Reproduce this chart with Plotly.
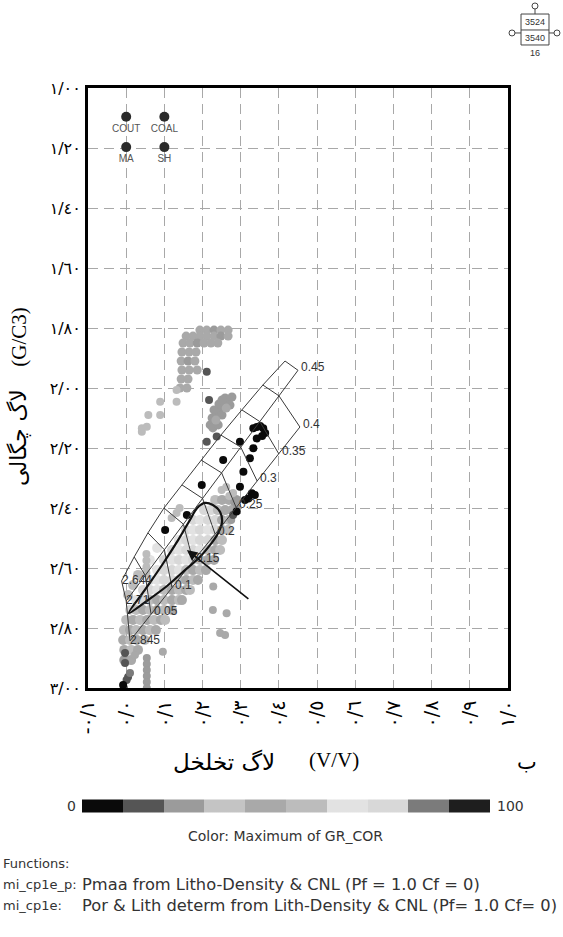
import plotly.graph_objects as go

# ---------------- axes ----------------
x_ticks = [-0.1, 0.0, 0.1, 0.2, 0.3, 0.4, 0.5, 0.6, 0.7, 0.8, 0.9, 1.0]
x_ticktext = ["-٠/١", "٠/٠", "٠/١", "٠/٢", "٠/٣", "٠/٤", "٠/٥", "٠/٦", "٠/٧", "٠/٨", "٠/٩", "١/٠"]
y_ticks = [1.0, 1.2, 1.4, 1.6, 1.8, 2.0, 2.2, 2.4, 2.6, 2.8, 3.0]
y_ticktext = ["١/٠٠", "١/٢٠", "١/٤٠", "١/٦٠", "١/٨٠", "٢/٠٠", "٢/٢٠", "٢/٤٠", "٢/٦٠", "٢/٨٠", "٣/٠٠"]

# ---------------- data points (NPHI, RHOB, GR) ----------------
upper_x = [0.193, 0.211, 0.230, 0.248, 0.267,
           0.157, 0.175, 0.193, 0.211, 0.230, 0.248, 0.267,
           0.149, 0.167, 0.186, 0.204, 0.222, 0.240,
           0.146, 0.165, 0.183,
           0.144, 0.162, 0.180,
           0.146, 0.165, 0.186,
           0.144, 0.162,
           0.141, 0.159]
upper_y = [1.807, 1.807, 1.807, 1.807, 1.807,
           1.827, 1.827, 1.827, 1.827, 1.827, 1.827, 1.827,
           1.850, 1.850, 1.850, 1.850, 1.850, 1.850,
           1.880, 1.880, 1.880,
           1.910, 1.910, 1.910,
           1.940, 1.940, 1.940,
           1.970, 1.970,
           2.000, 2.000]
upper_gr = [45, 45, 25, 45, 45,
            45, 45, 45, 45, 45, 25, 45,
            45, 45, 25, 45, 45, 45,
            45, 45, 45,
            45, 25, 45,
            45, 45, 45,
            45, 45,
            45, 45]

left_x = [0.132, 0.089, 0.132, 0.058, 0.089, 0.041, 0.054, 0.041]
left_y = [2.007, 2.046, 2.046, 2.090, 2.090, 2.134, 2.129, 2.146]
left_gr = [55, 55, 55, 55, 55, 55, 55, 55]

mid_x = [0.225, 0.235, 0.246, 0.256, 0.267, 0.277, 0.230, 0.243, 0.259, 0.220, 0.251, 0.272, 0.227, 0.241,
         0.262, 0.235, 0.251]
mid_y = [2.100, 2.087, 2.073, 2.057, 2.043, 2.030, 2.073, 2.053, 2.033, 2.123, 2.090, 2.057, 2.133, 2.123,
         2.067, 2.107, 2.040]
mid_gr = [25, 25, 25, 25, 25, 25, 25, 25, 25, 25, 25, 25, 25, 25, 45, 45, 25]

cloud_x = [0.233, 0.251, 0.269, 0.288,
           0.204, 0.222, 0.240, 0.259, 0.277,
           0.175, 0.193, 0.214, 0.233, 0.251, 0.269,
           0.157, 0.175, 0.193, 0.214, 0.233, 0.251, 0.267,
           0.138, 0.157, 0.175, 0.193, 0.214, 0.233, 0.251,
           0.120, 0.138, 0.157, 0.175, 0.193, 0.214, 0.233, 0.246,
           0.099, 0.120, 0.138, 0.157, 0.175, 0.193, 0.214, 0.230,
           0.081, 0.099, 0.120, 0.138, 0.157, 0.175, 0.193, 0.209,
           0.062, 0.081, 0.099, 0.120, 0.138, 0.157, 0.175, 0.188,
           0.044, 0.062, 0.081, 0.099, 0.120, 0.138, 0.157, 0.167,
           0.026, 0.044, 0.062, 0.081, 0.099, 0.120, 0.138, 0.146,
           0.010, 0.026, 0.044, 0.062, 0.081, 0.099, 0.120,
           0.000, 0.018, 0.036, 0.055, 0.073, 0.091, 0.102,
           -0.006, 0.010, 0.026, 0.044, 0.062, 0.078,
           -0.008, 0.010, 0.028, 0.049,
           -0.005, 0.013, 0.031,
           -0.005, 0.013,
           0.005, 0.018, 0.031, 0.062, 0.081]
cloud_y = [2.373, 2.373, 2.373, 2.373,
           2.407, 2.407, 2.407, 2.407, 2.407,
           2.440, 2.440, 2.440, 2.440, 2.440, 2.440,
           2.473, 2.473, 2.473, 2.473, 2.473, 2.473, 2.473,
           2.507, 2.507, 2.507, 2.507, 2.507, 2.507, 2.507,
           2.540, 2.540, 2.540, 2.540, 2.540, 2.540, 2.540, 2.540,
           2.573, 2.573, 2.573, 2.573, 2.573, 2.573, 2.573, 2.573,
           2.607, 2.607, 2.607, 2.607, 2.607, 2.607, 2.607, 2.607,
           2.640, 2.640, 2.640, 2.640, 2.640, 2.640, 2.640, 2.640,
           2.673, 2.673, 2.673, 2.673, 2.673, 2.673, 2.673, 2.673,
           2.707, 2.707, 2.707, 2.707, 2.707, 2.707, 2.707, 2.707,
           2.740, 2.740, 2.740, 2.740, 2.740, 2.740, 2.740,
           2.773, 2.773, 2.773, 2.773, 2.773, 2.773, 2.773,
           2.807, 2.807, 2.807, 2.807, 2.807, 2.807,
           2.840, 2.840, 2.840, 2.840,
           2.873, 2.873, 2.873,
           2.907, 2.907,
           2.690, 2.657, 2.623, 2.573, 2.533]
cloud_gr = [55, 45, 45, 25,
            75, 75, 55, 45, 45,
            75, 65, 75, 75, 45, 55,
            75, 65, 75, 65, 75, 45, 55,
            65, 75, 65, 75, 75, 45, 55,
            75, 65, 75, 75, 65, 55, 45, 55,
            75, 65, 75, 65, 75, 55, 45, 45,
            65, 75, 75, 65, 55, 45, 55, 45,
            75, 65, 75, 75, 55, 45, 55, 45,
            75, 75, 65, 55, 45, 55, 45, 55,
            65, 75, 55, 45, 55, 45, 55, 45,
            75, 55, 45, 55, 45, 55, 45,
            55, 45, 55, 45, 55, 45, 55,
            55, 45, 55, 45, 55, 45,
            45, 55, 45, 55,
            45, 55, 45,
            25, 45,
            55, 55, 55, 65, 65]

iso_x = [0.228, 0.227, 0.263, 0.246, 0.259, 0.096, 0.023, 0.132, 0.119, 0.140, 0.283, 0.290, 0.275,
         0.250, 0.262, 0.270, 0.280]
iso_y = [2.662, 2.740, 2.751, 2.817, 2.823, 2.879, 2.890, 2.417, 2.433, 2.400, 2.380, 2.400, 2.440,
         2.340, 2.330, 2.360, 2.350]
iso_gr = [45, 45, 45, 45, 45, 45, 45, 55, 55, 55, 25, 25, 25, 55, 55, 55, 55]

bar_x = [0.054, 0.054, 0.054, 0.054, 0.054, 0.054, 0.053, 0.053, 0.053, 0.053]
bar_y = [2.900, 2.920, 2.940, 2.960, 2.980, 3.000, 2.553, 2.575, 2.597, 2.617]
bar_gr = [25, 25, 25, 25, 25, 25, 55, 55, 55, 55]

dark_x = [0.211, 0.217, 0.211, 0.237, 0.280, -0.003, -0.003, 0.001, -0.006, 0.005, 0.010]
dark_y = [1.946, 2.040, 2.179, 2.162, 2.423, 2.883, 2.917, 2.973, 3.000, 2.963, 2.950]
dark_gr = [15, 15, 15, 15, 15, 15, 15, 15, 15, 15, 85]

black_x = [0.333, 0.342, 0.359, 0.364, 0.351, 0.342, 0.333, 0.324, 0.298, 0.254, 0.307, 0.298,
           0.329, 0.320, 0.337, 0.311, 0.289, 0.198, 0.159, 0.102, 0.356, -0.008]
black_y = [2.134, 2.130, 2.134, 2.150, 2.127, 2.168, 2.201, 2.234, 2.179, 2.240, 2.279, 2.329,
           2.351, 2.368, 2.357, 2.373, 2.412, 2.323, 2.423, 2.473, 2.160, 2.990]
black_gr = [5, 5, 5, 5, 5, 5, 5, 5, 5, 5, 5, 5,
            5, 5, 5, 5, 5, 5, 5, 5, 5, 5]

# ---------------- lithology / porosity chart overlay ----------------
phi_labels = ["0", "0.05", "0.1", "0.15", "0.2", "0.25", "0.3", "0.35", "0.4", "0.45"]
ss_x = [-0.012, 0.021, 0.057, 0.099, 0.146, 0.196, 0.248, 0.303, 0.358, 0.416]
ss_y = [2.643, 2.563, 2.483, 2.400, 2.323, 2.240, 2.157, 2.073, 1.990, 1.910]
ls_x = [0.000, 0.050, 0.100, 0.150, 0.200, 0.250, 0.300, 0.350, 0.400, 0.450]
ls_y = [2.710, 2.625, 2.539, 2.454, 2.368, 2.283, 2.197, 2.112, 2.026, 1.941]
dl_x = [0.010, 0.065, 0.120, 0.175, 0.233, 0.288, 0.343, 0.400, 0.455]
dl_y = [2.843, 2.753, 2.665, 2.577, 2.487, 2.398, 2.310, 2.220, 2.130]
matrix_labels = ["2.644", "2.71", "2.845"]

# hand-drawn loop and arrow
loop_x = [0.007, 0.049, 0.094, 0.136, 0.167, 0.186, 0.206, 0.227, 0.246, 0.251, 0.241, 0.220,
          0.193, 0.154, 0.107, 0.057, 0.007]
loop_y = [2.750, 2.673, 2.590, 2.507, 2.440, 2.400, 2.383, 2.390, 2.413, 2.447, 2.483, 2.523,
          2.563, 2.607, 2.660, 2.707, 2.750]
arrow_head = (0.159, 2.540)
arrow_tail = (0.324, 2.707)

# mineral reference points
mineral_names = ["COUT", "COAL", "MA", "SH"]
mineral_x = [0.0, 0.1, 0.0, 0.1]
mineral_y = [1.096, 1.096, 1.197, 1.197]

# colour scale (GR_COR, 0-100) in 10 grey steps
gr_steps = ["#0a0a0a", "#555555", "#9b9b9b", "#c4c4c4", "#a9a9a9",
            "#bcbcbc", "#e2e2e2", "#d8d8d8", "#7b7b7b", "#1e1e1e"]
colorscale = []
for i, c in enumerate(gr_steps):
    colorscale.append([i / 10, c])
    colorscale.append([(i + 1) / 10, c])

fig = go.Figure()

groups = [
    (upper_x, upper_y, upper_gr, 9), (left_x, left_y, left_gr, 8), (mid_x, mid_y, mid_gr, 9),
    (cloud_x, cloud_y, cloud_gr, 10), (iso_x, iso_y, iso_gr, 8), (bar_x, bar_y, bar_gr, 8),
    (dark_x, dark_y, dark_gr, 8), (black_x, black_y, black_gr, 8),
]
for gx, gy, gg, sz in groups:
    fig.add_trace(go.Scatter(x=gx, y=gy, mode="markers",
                             marker=dict(size=sz, color=gg, coloraxis="coloraxis"),
                             showlegend=False, hoverinfo="skip"))

# overlay: lengthwise lithology lines
line_style = dict(color="#3a3a3a", width=1)
for lx, ly in [(ss_x, ss_y), (ls_x, ls_y), (dl_x, dl_y)]:
    fig.add_trace(go.Scatter(x=lx, y=ly, mode="lines", line=line_style,
                             showlegend=False, hoverinfo="skip"))
# overlay: iso-porosity cross lines
cx, cy = [], []
for i in range(len(ss_x)):
    cx += [ss_x[i], ls_x[i]]
    cy += [ss_y[i], ls_y[i]]
    if i < len(dl_x):
        cx.append(dl_x[i])
        cy.append(dl_y[i])
    cx.append(None)
    cy.append(None)
fig.add_trace(go.Scatter(x=cx, y=cy, mode="lines", line=line_style,
                         showlegend=False, hoverinfo="skip"))

# loop
fig.add_trace(go.Scatter(x=loop_x, y=loop_y, mode="lines",
                         line=dict(color="#111111", width=2.2, shape="spline"),
                         showlegend=False, hoverinfo="skip"))

# mineral points
fig.add_trace(go.Scatter(x=mineral_x, y=mineral_y, mode="markers+text",
                         text=mineral_names, textposition="bottom center",
                         textfont=dict(family="Liberation Sans Narrow, Liberation Sans", size=10, color="#555555"),
                         marker=dict(size=10, color="#2b2b2b"),
                         showlegend=False, hoverinfo="skip"))

annotations = []
lab_font = dict(family="Liberation Sans", size=12, color="#333333")
for i in range(1, len(phi_labels)):
    if i < len(dl_x):
        px, py = dl_x[i], dl_y[i]
    else:
        px, py = ls_x[i], ls_y[i]
    annotations.append(dict(x=px, y=py, xref="x", yref="y", text=phi_labels[i],
                            showarrow=False, xanchor="left", yanchor="middle", yshift=3, xshift=1,
                            font=lab_font))
for lab, px, py in zip(matrix_labels, [ss_x[0], ls_x[0], dl_x[0]], [ss_y[0], ls_y[0], dl_y[0]]):
    annotations.append(dict(x=px, y=py, xref="x", yref="y", text=lab, showarrow=False,
                            xanchor="left", yanchor="middle", xshift=-2, yshift=1, font=lab_font))
annotations.append(dict(x=arrow_head[0], y=arrow_head[1], ax=arrow_tail[0], ay=arrow_tail[1],
                        xref="x", yref="y", axref="x", ayref="y", text="", showarrow=True,
                        arrowhead=2, arrowsize=1.3, arrowwidth=1.6, arrowcolor="#111111"))


def paper_text(x, y, text, font, xanchor="center", angle=0):
    return dict(x=x, y=y, xref="paper", yref="paper", text=text, showarrow=False,
                xanchor=xanchor, yanchor="middle", textangle=angle, font=font)


# axis titles
annotations += [
    paper_text(-0.165, 0.585, "(G/C3)", dict(family="Liberation Serif", size=21, color="black"), angle=-90),
    paper_text(-0.165, 0.418, "لاگ چگالی", dict(family="DejaVu Sans", size=22, color="black"), angle=-90),
    paper_text(0.45, -0.1233, "لاگ تخلخل", dict(family="DejaVu Sans", size=23, color="black"), xanchor="right"),
    paper_text(0.5214, -0.12, "(V/V)", dict(family="Liberation Serif", size=21, color="black"), xanchor="left"),
    paper_text(1.045, -0.1233, "ب", dict(family="DejaVu Sans", size=21, color="black")),
]
# colour bar labels and notes
note_font = dict(family="DejaVu Sans", size=14, color="#333333")
desc_font = dict(family="DejaVu Sans", size=16.3, color="#333333")
head_font = dict(family="DejaVu Sans", size=13, color="#333333")
annotations += [
    paper_text(-0.0238, -0.1967, "0", note_font, xanchor="right"),
    paper_text(0.969, -0.1967, "100", note_font, xanchor="left"),
    paper_text(0.4714, -0.2467, "Color: Maximum of GR_COR", note_font),
    paper_text(-0.2071, -0.2933, "Functions:", head_font, xanchor="left"),
    paper_text(-0.2071, -0.3283, "mi_cp1e_p:", head_font, xanchor="left"),
    paper_text(-0.019, -0.3283, "Pmaa from Litho-Density & CNL (Pf = 1.0 Cf = 0)", desc_font, xanchor="left"),
    paper_text(-0.2071, -0.3633, "mi_cp1e:", head_font, xanchor="left"),
    paper_text(-0.019, -0.3633, "Por & Lith determ from Lith-Density & CNL (Pf= 1.0 Cf= 0)", desc_font,
               xanchor="left"),
]
# well/zone badge, top right
badge_font = dict(family="Liberation Sans", size=9, color="#333333")
annotations += [
    paper_text(1.0643, 1.11, "3524", badge_font),
    paper_text(1.0643, 1.0833, "3540", badge_font),
    paper_text(1.0643, 1.0583, "16", badge_font),
]
shape_line = dict(color="#444444", width=1)
shapes = [
    dict(type="rect", xref="paper", yref="paper", x0=1.031, x1=1.0976, y0=1.0717, y1=1.1233, line=shape_line),
    dict(type="line", xref="paper", yref="paper", x0=1.031, x1=1.0976, y0=1.0967, y1=1.0967, line=shape_line),
    dict(type="circle", xref="paper", yref="paper", x0=1.0571, x1=1.0714, y0=1.1317, y1=1.1417, line=shape_line),
    dict(type="line", xref="paper", yref="paper", x0=1.0643, x1=1.0643, y0=1.1233, y1=1.1317, line=shape_line),
    dict(type="circle", xref="paper", yref="paper", x0=1.0024, x1=1.0167, y0=1.0867, y1=1.0967, line=shape_line),
    dict(type="line", xref="paper", yref="paper", x0=1.0167, x1=1.031, y0=1.0917, y1=1.0917, line=shape_line),
    dict(type="circle", xref="paper", yref="paper", x0=1.1095, x1=1.1238, y0=1.0867, y1=1.0967, line=shape_line),
    dict(type="line", xref="paper", yref="paper", x0=1.0976, x1=1.1095, y0=1.0917, y1=1.0917, line=shape_line),
]

fig.update_layout(
    width=563, height=937, autosize=False,
    margin=dict(l=88, r=55, t=88, b=249, autoexpand=False),
    paper_bgcolor="white", plot_bgcolor="white",
    xaxis=dict(range=[-0.1, 1.0], tickvals=x_ticks, ticktext=x_ticktext, tickangle=-90,
               showgrid=True, gridcolor="#a8a8a8", gridwidth=1.2, griddash="10px,6px",
               showline=True, mirror=True, linecolor="black", linewidth=3, zeroline=False,
               ticks="", ticklabelstandoff=2,
               tickfont=dict(family="DejaVu Sans", size=19, color="black")),
    yaxis=dict(range=[3.0, 1.0], tickvals=y_ticks, ticktext=y_ticktext,
               showgrid=True, gridcolor="#a8a8a8", gridwidth=1.2, griddash="10px,6px",
               showline=True, mirror=True, linecolor="black", linewidth=3, zeroline=False,
               ticks="", ticklabelstandoff=1,
               tickfont=dict(family="DejaVu Sans", size=16, color="black")),
    coloraxis=dict(colorscale=colorscale, cmin=0, cmax=100,
                   colorbar=dict(orientation="h", x=0.4714, xanchor="center", y=-0.1967, yanchor="middle",
                                 len=408, lenmode="pixels", thickness=13, outlinewidth=0,
                                 showticklabels=False, ticks="", xpad=0, ypad=0)),
    annotations=annotations, shapes=shapes,
)

fig.write_html("out.html", config={"displayModeBar": False},
               post_script="document.body.style.margin='0px';document.body.style.overflow='hidden';")
